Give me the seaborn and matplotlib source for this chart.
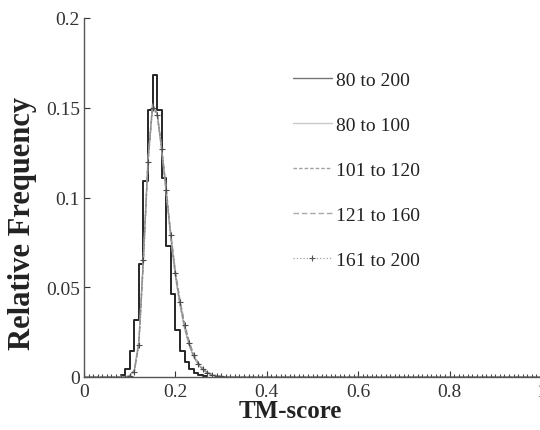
import numpy as np
import pandas as pd
import matplotlib
matplotlib.use("Agg")
import matplotlib.pyplot as plt
from matplotlib.lines import Line2D
import seaborn as sns

# ---- data ----
hist_edges = [0.08, 0.09, 0.10, 0.11, 0.12, 0.13, 0.14, 0.15, 0.16, 0.17,
              0.18, 0.19, 0.20, 0.21, 0.22, 0.23, 0.24, 0.25, 0.26, 0.27]
hist_80_200 = [0.001, 0.0045, 0.0147, 0.032, 0.063, 0.109, 0.149, 0.168, 0.149,
               0.111, 0.073, 0.046, 0.026, 0.0145, 0.0084, 0.0045, 0.002, 0.001, 0.0005]

curve_x = [round(0.01 * k, 2) for k in range(101)]
lead_zeros = [0.0] * 10    # 0.00 .. 0.09
tail_zeros = [0.0] * 69    # 0.32 .. 1.00
c_80_100 = lead_zeros + [0.0008, 0.004, 0.020, 0.067, 0.121, 0.151, 0.147, 0.126, 0.102, 0.077, 0.056,
                         0.040, 0.027, 0.018, 0.011, 0.007, 0.004, 0.0022, 0.0012, 0.0006, 0.0003, 0.0001] + tail_zeros
c_101_120 = lead_zeros + [0.0006, 0.0035, 0.019, 0.066, 0.121, 0.152, 0.147, 0.127, 0.103, 0.078, 0.057,
                          0.041, 0.028, 0.018, 0.0115, 0.0072, 0.0043, 0.0024, 0.0013, 0.0007, 0.0003, 0.0001] + tail_zeros
c_121_160 = lead_zeros + [0.0005, 0.003, 0.018, 0.064, 0.119, 0.150, 0.147, 0.128, 0.105, 0.080, 0.059,
                          0.043, 0.030, 0.020, 0.0125, 0.008, 0.0048, 0.0027, 0.0014, 0.0007, 0.0003, 0.0001] + tail_zeros
c_161_200 = lead_zeros + [0.0005, 0.003, 0.018, 0.065, 0.120, 0.150, 0.146, 0.127, 0.104, 0.079, 0.058,
                          0.042, 0.029, 0.019, 0.012, 0.0075, 0.0045, 0.0025, 0.0013, 0.0007, 0.0003, 0.0001] + tail_zeros

labels = ["80 to 200", "80 to 100", "101 to 120", "121 to 160", "161 to 200"]
x_ticks = [0, 0.2, 0.4, 0.6, 0.8, 1.0]
x_ticklabels = ["0", "0.2", "0.4", "0.6", "0.8", "1"]
y_ticks = [0, 0.05, 0.1, 0.15, 0.2]
y_ticklabels = ["0", "0.05", "0.1", "0.15", "0.2"]

# ---- style ----
sns.set_theme(style="ticks")
plt.rcParams["font.family"] = ["Liberation Serif", "DejaVu Serif"]
plt.rcParams["xtick.direction"] = "in"
plt.rcParams["ytick.direction"] = "in"

fig = plt.figure(figsize=(5.4, 4.31), dpi=100)
ax = fig.add_axes([84 / 540, 53 / 431, 457 / 540, 359 / 431])

hist_centers = [(hist_edges[i] + hist_edges[i + 1]) / 2 for i in range(len(hist_80_200))]
sns.histplot(x=hist_centers, weights=hist_80_200, bins=hist_edges, element="step",
             fill=False, color="#262626", linewidth=1.4, ax=ax)

df = pd.DataFrame({"x": curve_x, "a": c_80_100, "b": c_101_120, "c": c_121_160, "d": c_161_200})
sns.lineplot(data=df, x="x", y="a", color="#b5b5b5", linewidth=1.0, ax=ax)
sns.lineplot(data=df, x="x", y="b", color="#939393", linewidth=1.0, linestyle=(0, (2.5, 1.5)), ax=ax)
sns.lineplot(data=df, x="x", y="c", color="#9a9a9a", linewidth=1.0, linestyle=(0, (4, 2)), ax=ax)
sns.lineplot(data=df, x="x", y="d", color="#858585", linewidth=0.9, linestyle=":",
             marker="+", markersize=5, markeredgewidth=0.8, markeredgecolor="#4a4a4a", ax=ax)

ax.set_xlim(0, 1)
ax.set_ylim(0, 0.2)
ax.set_xticks(x_ticks)
ax.set_xticklabels(x_ticklabels)
ax.set_yticks(y_ticks)
ax.set_yticklabels(y_ticklabels)
ax.tick_params(axis="both", labelsize=14, length=4, width=0.8, colors="#333333")
ax.tick_params(axis="x", pad=4)
ax.tick_params(axis="y", pad=3)
for s in ["top", "right"]:
    ax.spines[s].set_visible(False)
for s in ["left", "bottom"]:
    ax.spines[s].set_color("#555555")
    ax.spines[s].set_linewidth(1.0)

ax.set_xlabel("TM-score", fontsize=18, fontweight="bold", color="#222222")
ax.set_ylabel("Relative Frequency", fontsize=22, fontweight="bold", color="#222222")
ax.xaxis.set_label_coords(206 / 457, -34 / 359)
ax.yaxis.set_label_coords(-61 / 457, 154 / 359)
ax.xaxis.label.set_va("center")
ax.yaxis.label.set_va("center")

handles = [
    Line2D([], [], color="#777777", linewidth=1.0),
    Line2D([], [], color="#c8c8c8", linewidth=1.0),
    Line2D([], [], color="#a0a0a0", linewidth=1.0, linestyle=(0, (2.5, 1.5))),
    Line2D([], [], color="#a8a8a8", linewidth=1.0, linestyle=(0, (4, 2))),
    Line2D([], [], color="#a0a0a0", linewidth=0.9, linestyle=":", marker="+",
           markersize=5, markeredgewidth=0.8, markeredgecolor="#555555"),
]
leg = ax.legend(handles, labels, loc="upper left", bbox_to_anchor=(293 / 540, 1 - 72 / 431),
                bbox_transform=fig.transFigure, frameon=False, fontsize=14,
                handlelength=2.0, handletextpad=0.2, labelspacing=1.41,
                borderpad=0, borderaxespad=0, numpoints=1)
for t in leg.get_texts():
    t.set_color("#222222")

fig.savefig("out.png", dpi=100)
